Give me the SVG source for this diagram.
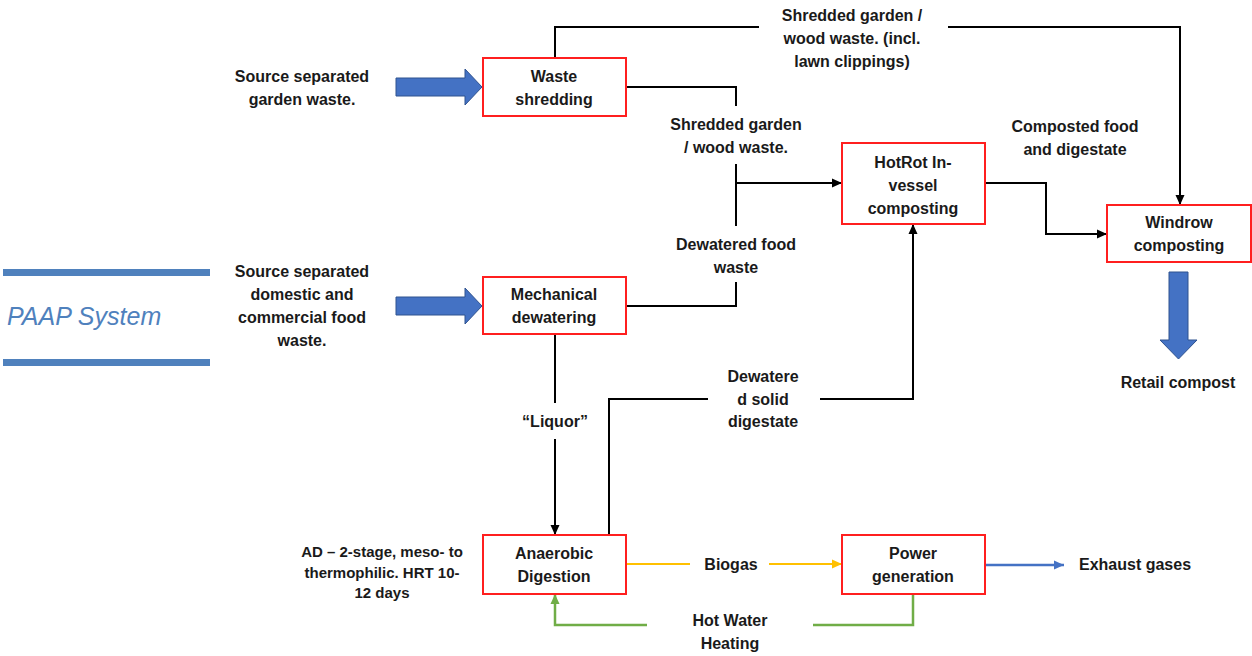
<svg xmlns="http://www.w3.org/2000/svg" width="1252" height="656" viewBox="0 0 1252 656">
<style>
  .box { fill: #ffffff; stroke: #ff1f1f; stroke-width: 2; }
  .t { font-family: "Liberation Sans", Arial, sans-serif; font-weight: bold; font-size: 16px; fill: #1a1a1a; text-anchor: middle; }
  .ts { font-family: "Liberation Sans", Arial, sans-serif; font-weight: bold; font-size: 15px; fill: #1a1a1a; text-anchor: middle; }
  .c { fill: none; stroke: #000; stroke-width: 2; }
  .y { fill: none; stroke: #ffc000; stroke-width: 2; }
  .g { fill: none; stroke: #70ad47; stroke-width: 2.5; }
  .b { fill: none; stroke: #4472c4; stroke-width: 2.5; }
  .block { fill: #4472c4; stroke: #2f528f; stroke-width: 1; }
</style>
<defs>
  <marker id="ak" markerUnits="userSpaceOnUse" markerWidth="10" markerHeight="10" refX="10" refY="5" orient="auto"><path d="M0,0.5 L10,5 L0,9.5 z" fill="#000"/></marker>
  <marker id="ay" markerUnits="userSpaceOnUse" markerWidth="10" markerHeight="10" refX="10" refY="5" orient="auto"><path d="M0,0.5 L10,5 L0,9.5 z" fill="#ffc000"/></marker>
  <marker id="ag" markerUnits="userSpaceOnUse" markerWidth="10" markerHeight="10" refX="10" refY="5" orient="auto"><path d="M0,0.5 L10,5 L0,9.5 z" fill="#70ad47"/></marker>
  <marker id="ab" markerUnits="userSpaceOnUse" markerWidth="10" markerHeight="10" refX="10" refY="5" orient="auto"><path d="M0,0.5 L10,5 L0,9.5 z" fill="#4472c4"/></marker>
</defs>
<rect width="1252" height="656" fill="#ffffff"/>

<g id="paap">
  <rect x="3" y="269" width="207" height="7" fill="#4f81bd"/>
  <rect x="3" y="359" width="207" height="7" fill="#4f81bd"/>
  <text x="7" y="325" font-family="Liberation Sans, Arial, sans-serif" font-style="italic" font-size="25" fill="#4f81bd">PAAP System</text>
</g>

<g id="connectors">
  <path class="c" d="M555,58 V27 H759"/>
  <path class="c" d="M948,27 H1180 V205" marker-end="url(#ak)"/>
  <path class="c" d="M626,87 H736 V106"/>
  <path class="c" d="M736,164 V226"/>
  <path class="c" d="M736,183 H842" marker-end="url(#ak)"/>
  <path class="c" d="M626,306 H736 V282"/>
  <path class="c" d="M985,183 H1046 V234 H1107" marker-end="url(#ak)"/>
  <path class="c" d="M555,334 V403"/>
  <path class="c" d="M555,439 V535" marker-end="url(#ak)"/>
  <path class="c" d="M609,535 V399 H708"/>
  <path class="c" d="M820,399 H913 V224" marker-end="url(#ak)"/>
  <path class="y" d="M626,564 H690"/>
  <path class="y" d="M769,564 H842" marker-end="url(#ay)"/>
  <path class="g" d="M913,594 V625 H813"/>
  <path class="g" d="M647,625 H555 V594" marker-end="url(#ag)"/>
  <path class="b" d="M986,565 H1064" marker-end="url(#ab)"/>
  <polygon class="block" points="396,78 465,78 465,69 482,87 465,105 465,96 396,96"/>
  <polygon class="block" points="396,297 465,297 465,288 482,306 465,324 465,315 396,315"/>
  <polygon class="block" points="1169,272 1188,272 1188,340 1197,340 1178.5,359 1160,340 1169,340"/>
</g>

<g id="labels">
  <text class="t" x="302" y="82">Source separated</text>
  <text class="t" x="302" y="105">garden waste.</text>
  <text class="t" x="302" y="277">Source separated</text>
  <text class="t" x="302" y="300">domestic and</text>
  <text class="t" x="302" y="323">commercial food</text>
  <text class="t" x="302" y="346">waste.</text>
  <text class="t" x="852" y="21">Shredded garden /</text>
  <text class="t" x="852" y="44">wood waste. (incl.</text>
  <text class="t" x="852" y="67">lawn clippings)</text>
  <text class="t" x="736" y="130">Shredded garden</text>
  <text class="t" x="736" y="153">/ wood waste.</text>
  <text class="t" x="736" y="250">Dewatered food</text>
  <text class="t" x="736" y="273">waste</text>
  <text class="t" x="1075" y="132">Composted food</text>
  <text class="t" x="1075" y="155">and digestate</text>
  <text class="t" x="555" y="427">“Liquor”</text>
  <text class="t" x="763" y="382">Dewatere</text>
  <text class="t" x="763" y="405">d solid</text>
  <text class="t" x="763" y="427">digestate</text>
  <text class="ts" x="382" y="557">AD – 2-stage, meso- to</text>
  <text class="ts" x="382" y="578">thermophilic. HRT 10-</text>
  <text class="ts" x="382" y="598">12 days</text>
  <text class="t" x="731" y="570">Biogas</text>
  <text class="t" x="730" y="626">Hot Water</text>
  <text class="t" x="730" y="649">Heating</text>
  <text class="t" x="1079" y="570" text-anchor="start" style="text-anchor:start">Exhaust gases</text>
  <text class="t" x="1178" y="388">Retail compost</text>
</g>

<g id="waste-shredding">
  <rect class="box" x="483" y="58" width="143" height="58"/>
  <text class="t" x="554" y="82">Waste</text>
  <text class="t" x="554" y="105">shredding</text>
</g>
<g id="mechanical-dewatering">
  <rect class="box" x="483" y="277" width="143" height="57"/>
  <text class="t" x="554" y="300">Mechanical</text>
  <text class="t" x="554" y="323">dewatering</text>
</g>
<g id="hotrot">
  <rect class="box" x="842" y="143" width="143" height="81"/>
  <text class="t" x="913" y="168">HotRot In-</text>
  <text class="t" x="913" y="191">vessel</text>
  <text class="t" x="913" y="214">composting</text>
</g>
<g id="windrow">
  <rect class="box" x="1107" y="205" width="144" height="57"/>
  <text class="t" x="1179" y="228">Windrow</text>
  <text class="t" x="1179" y="251">composting</text>
</g>
<g id="anaerobic-digestion">
  <rect class="box" x="483" y="535" width="143" height="59"/>
  <text class="t" x="554" y="559">Anaerobic</text>
  <text class="t" x="554" y="582">Digestion</text>
</g>
<g id="power-generation">
  <rect class="box" x="842" y="535" width="143" height="59"/>
  <text class="t" x="913" y="559">Power</text>
  <text class="t" x="913" y="582">generation</text>
</g>
</svg>
